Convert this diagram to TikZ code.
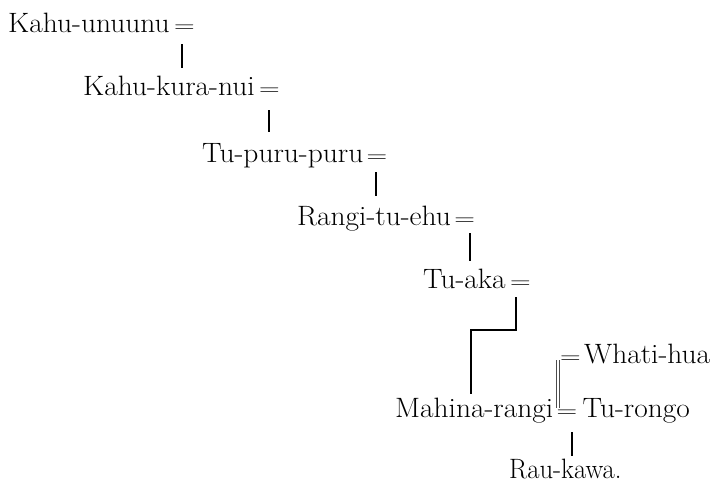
\documentclass[tikz,border=0pt]{standalone}
\usepackage{graphicx}
\begin{document}
\begin{tikzpicture}[x=1pt,y=-1pt,
  person/.style={anchor=base west,inner sep=0pt,font=\fontsize{28}{32}\selectfont},
  eq/.style={anchor=base west,inner sep=0pt,font=\fontsize{28}{32}\selectfont},
  descent/.style={line width=1.9pt},
  marriage/.style={line width=0.7pt,color=black!70}]
\useasboundingbox (0,0) rectangle (715,485);
\newcommand{\nm}[1]{\scalebox{1.05}[1]{#1}}
\newcommand{\wideeq}{\scalebox{1.15}[0.85]{$=$}}

% generations, each spouse sign set just after the name
\node[person] (n1) at (8,32) {\nm{Kahu-unuunu}};
\node[eq]     (e1) at ([xshift=4pt]n1.base east) {\wideeq};
\node[person] (n2) at (83,95) {\nm{Kahu-kura-nui}};
\node[eq]     (e2) at ([xshift=4pt]n2.base east) {\wideeq};
\node[person] (n3) at (202,162) {\nm{Tu-puru-puru}};
\node[eq]     (e3) at ([xshift=3pt]n3.base east) {\wideeq};
\node[person] (n4) at (297,225) {\nm{Rangi-tu-ehu}};
\node[eq]     (e4) at ([xshift=3pt]n4.base east) {\wideeq};
\node[person] (n5) at (423,288) {\nm{Tu-aka}};
\node[eq]     (e5) at ([xshift=4pt]n5.base east) {\wideeq};
\node[eq]     (e6) at (560,363) {\wideeq};
\node[person] (n6) at ([xshift=3pt]e6.base east) {\nm{Whati-hua}};
\node[person] (n7) at (395,417) {\nm{Mahina-rangi}};
\node[eq]     (e7) at ([xshift=3pt]n7.base east) {\wideeq};
\node[person] (n8) at ([xshift=5pt]e7.base east) {\nm{Tu-rongo}};
\node[person] (n9) at (509,478) {\scalebox{0.95}[1]{Rau-kawa.}};

% lines of descent
\draw[descent] ([xshift=-2pt,yshift=-12pt]e1.base) -- ([xshift=-2pt,yshift=7pt]e1.base |- n2.north);
\draw[descent] ([yshift=-15pt]e2.base) -- ([yshift=11pt]e2.base |- n3.north);
\draw[descent] ([xshift=-1pt,yshift=-10pt]e3.base) -- ([xshift=-1pt,yshift=9pt]e3.base |- n4.north);
\draw[descent] ([xshift=5pt,yshift=-8pt]e4.base) -- ([xshift=5pt,yshift=7pt]e4.base |- n5.north);
\coordinate (fork) at (471,330);
\draw[descent] ([xshift=-4pt,yshift=-9pt]e5.base) |- (fork) -- ([yshift=3pt]fork |- n7.north);
\draw[descent] ([xshift=5pt,yshift=-15pt]e7.base) -- ([xshift=5pt,yshift=2pt]e7.base |- n9.north);

% second marriage: a pair of thin lines between the two spouse signs
\draw[marriage] ([xshift=-4pt,yshift=3pt]e6.base west) -- ([xshift=-4pt,yshift=1pt]e6.base west |- e7.north);
\draw[marriage] ([xshift=-0.5pt,yshift=3pt]e6.base west) -- ([xshift=-0.5pt,yshift=1pt]e6.base west |- e7.north);
\end{tikzpicture}
\end{document}
